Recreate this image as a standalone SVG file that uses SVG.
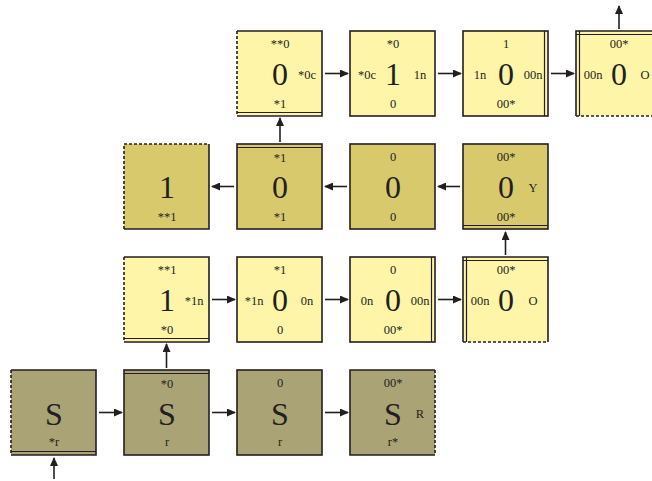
<svg xmlns="http://www.w3.org/2000/svg" width="652" height="481" viewBox="0 0 652 481">
<style>
.lt{fill:#fef5a9}
.gd{fill:#d8ca6c}
.ol{fill:#aaa375}
.e{stroke:#231f20;stroke-width:1.6;fill:none}
.d{stroke:#231f20;stroke-width:1.6;stroke-dasharray:3 2;fill:none}
.w{stroke:#231f20;stroke-width:1.2;fill:none}
text{font-family:"Liberation Serif","Times New Roman",serif;fill:#231f20;text-anchor:middle}
.b{font-size:32px}
.s{font-size:12.5px}
.c line{stroke:#231f20;stroke-width:1.6}
</style>
<defs>
<marker id="ah" markerWidth="9" markerHeight="8" refX="8" refY="4" orient="auto" markerUnits="userSpaceOnUse">
<path d="M0,0 L9,4 L0,8 Z" fill="#231f20"/>
</marker>
</defs>
<rect width="652" height="481" fill="#ffffff"/>

<g class="c" id="connectors">
<line x1="99" y1="412.5" x2="122" y2="412.5" marker-end="url(#ah)"/>
<line x1="212" y1="412.5" x2="235" y2="412.5" marker-end="url(#ah)"/>
<line x1="325" y1="412.5" x2="348" y2="412.5" marker-end="url(#ah)"/>
<line x1="54" y1="479" x2="54" y2="458" marker-end="url(#ah)"/>
<line x1="166.5" y1="368" x2="166.5" y2="344" marker-end="url(#ah)"/>
<line x1="212" y1="299.5" x2="235" y2="299.5" marker-end="url(#ah)"/>
<line x1="325" y1="299.5" x2="348" y2="299.5" marker-end="url(#ah)"/>
<line x1="438" y1="299.5" x2="461" y2="299.5" marker-end="url(#ah)"/>
<line x1="505.5" y1="255" x2="505.5" y2="232" marker-end="url(#ah)"/>
<line x1="460" y1="186.5" x2="438" y2="186.5" marker-end="url(#ah)"/>
<line x1="347" y1="186.5" x2="325" y2="186.5" marker-end="url(#ah)"/>
<line x1="234" y1="186.5" x2="212" y2="186.5" marker-end="url(#ah)"/>
<line x1="280" y1="142" x2="280" y2="118" marker-end="url(#ah)"/>
<line x1="325" y1="73.5" x2="348" y2="73.5" marker-end="url(#ah)"/>
<line x1="438" y1="73.5" x2="461" y2="73.5" marker-end="url(#ah)"/>
<line x1="551" y1="73.5" x2="574" y2="73.5" marker-end="url(#ah)"/>
<line x1="619" y1="29" x2="619" y2="6" marker-end="url(#ah)"/>
</g>

<!-- Row 1 -->
<g id="nA" transform="translate(237,31)">
<rect class="lt" width="85" height="85"/>
<path class="e" d="M0 0H85V85H0"/><path class="d" d="M0 0V85"/><path class="w" d="M0 81.5H85"/>
<text class="s" x="43" y="17">**0</text><text class="b" x="43" y="54">0</text>
<text class="s" x="70" y="48">*0c</text><text class="s" x="43" y="77">*1</text>
</g>
<g id="nB" transform="translate(350,31)">
<rect class="lt" width="85" height="85"/><rect class="e" width="85" height="85"/>
<text class="s" x="43" y="17">*0</text><text class="b" x="43" y="54">1</text>
<text class="s" x="17" y="48">*0c</text><text class="s" x="70" y="48">1n</text><text class="s" x="43" y="77">0</text>
</g>
<g id="nC" transform="translate(463,31)">
<rect class="lt" width="85" height="85"/><rect class="e" width="85" height="85"/><path class="w" d="M81.5 0V85"/>
<text class="s" x="43" y="17">1</text><text class="b" x="43" y="54">0</text>
<text class="s" x="17" y="48">1n</text><text class="s" x="70" y="48">00n</text><text class="s" x="43" y="77">00*</text>
</g>
<g id="nD" transform="translate(576,31)">
<rect class="lt" width="85" height="85"/>
<path class="e" d="M0 85V0H85V85"/><path class="d" d="M0 85H85"/><path class="w" d="M3.5 0V85M0 3.5H85"/>
<text class="s" x="43" y="17">00*</text><text class="b" x="43" y="54">0</text>
<text class="s" x="17" y="48">00n</text><text class="s" x="69" y="48">O</text>
</g>

<!-- Row 2 -->
<g id="nE" transform="translate(124,144)">
<rect class="gd" width="85" height="85"/>
<path class="e" d="M85 0V85H0"/><path class="d" d="M0 85V0H85"/>
<text class="b" x="43" y="54">1</text><text class="s" x="43" y="77">**1</text>
</g>
<g id="nF" transform="translate(237,144)">
<rect class="gd" width="85" height="85"/><rect class="e" width="85" height="85"/><path class="w" d="M0 3.5H85"/>
<text class="s" x="43" y="18">*1</text><text class="b" x="43" y="54">0</text><text class="s" x="43" y="77">*1</text>
</g>
<g id="nG" transform="translate(350,144)">
<rect class="gd" width="85" height="85"/><rect class="e" width="85" height="85"/>
<text class="s" x="43" y="17">0</text><text class="b" x="43" y="54">0</text><text class="s" x="43" y="77">0</text>
</g>
<g id="nH" transform="translate(463,144)">
<rect class="gd" width="85" height="85"/><rect class="e" width="85" height="85"/><path class="w" d="M0 81.5H85"/>
<text class="s" x="43" y="17">00*</text><text class="b" x="43" y="54">0</text>
<text class="s" x="70" y="48">Y</text><text class="s" x="43" y="77">00*</text>
</g>

<!-- Row 3 -->
<g id="nI" transform="translate(124,257)">
<rect class="lt" width="85" height="85"/>
<path class="e" d="M0 0H85V85H0"/><path class="d" d="M0 0V85"/><path class="w" d="M0 81.5H85"/>
<text class="s" x="43" y="17">**1</text><text class="b" x="43" y="54">1</text>
<text class="s" x="70" y="48">*1n</text><text class="s" x="43" y="77">*0</text>
</g>
<g id="nJ" transform="translate(237,257)">
<rect class="lt" width="85" height="85"/><rect class="e" width="85" height="85"/>
<text class="s" x="43" y="17">*1</text><text class="b" x="43" y="54">0</text>
<text class="s" x="17" y="48">*1n</text><text class="s" x="70" y="48">0n</text><text class="s" x="43" y="77">0</text>
</g>
<g id="nK" transform="translate(350,257)">
<rect class="lt" width="85" height="85"/><rect class="e" width="85" height="85"/><path class="w" d="M81.5 0V85"/>
<text class="s" x="43" y="17">0</text><text class="b" x="43" y="54">0</text>
<text class="s" x="17" y="48">0n</text><text class="s" x="70" y="48">00n</text><text class="s" x="43" y="77">00*</text>
</g>
<g id="nL" transform="translate(463,257)">
<rect class="lt" width="85" height="85"/>
<path class="e" d="M0 85V0H85V85"/><path class="d" d="M0 85H85"/><path class="w" d="M3.5 0V85M0 3.5H85"/>
<text class="s" x="43" y="17">00*</text><text class="b" x="43" y="54">0</text>
<text class="s" x="17" y="48">00n</text><text class="s" x="70" y="48">O</text>
</g>

<!-- Row 4 -->
<g id="nM" transform="translate(11,370)">
<rect class="ol" width="85" height="85"/>
<path class="e" d="M0 0H85V85H0"/><path class="d" d="M0 0V85"/><path class="w" d="M0 81.5H85"/>
<text class="b" x="43" y="55">S</text><text class="s" x="43" y="76">*r</text>
</g>
<g id="nN" transform="translate(124,370)">
<rect class="ol" width="85" height="85"/><rect class="e" width="85" height="85"/><path class="w" d="M0 3.5H85"/>
<text class="s" x="43" y="18">*0</text><text class="b" x="43" y="55">S</text><text class="s" x="43" y="76">r</text>
</g>
<g id="nO" transform="translate(237,370)">
<rect class="ol" width="85" height="85"/><rect class="e" width="85" height="85"/>
<text class="s" x="43" y="17">0</text><text class="b" x="43" y="55">S</text><text class="s" x="43" y="76">r</text>
</g>
<g id="nP" transform="translate(350,370)">
<rect class="ol" width="85" height="85"/>
<path class="e" d="M85 85H0V0H85"/><path class="d" d="M85 0V85"/>
<text class="s" x="43" y="17">00*</text><text class="b" x="43" y="55">S</text>
<text class="s" x="70" y="48">R</text><text class="s" x="43" y="76">r*</text>
</g>
</svg>
